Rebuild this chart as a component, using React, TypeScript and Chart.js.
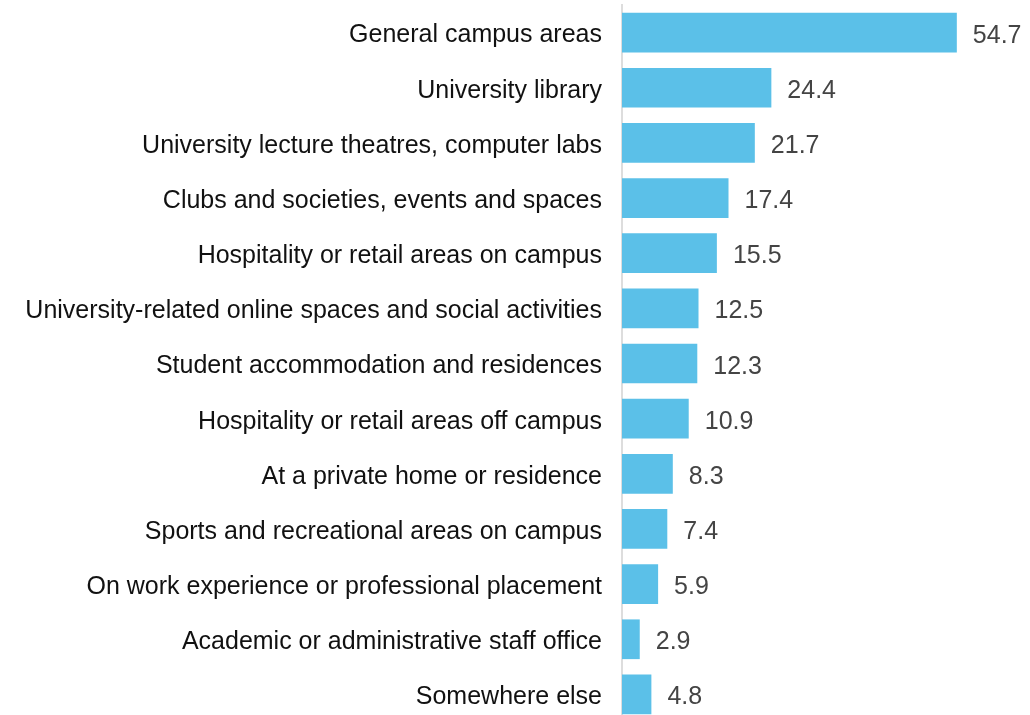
import React, { useEffect, useRef } from "react";
import { Chart, registerables } from "chart.js";

Chart.register(...registerables);

const categories = [
  "General campus areas",
  "University library",
  "University lecture theatres, computer labs",
  "Clubs and societies, events and spaces",
  "Hospitality or retail areas on campus",
  "University-related online spaces and social activities",
  "Student accommodation and residences",
  "Hospitality or retail areas off campus",
  "At a private home or residence",
  "Sports and recreational areas on campus",
  "On work experience or professional placement",
  "Academic or administrative staff office",
  "Somewhere else",
];

const values = [54.7, 24.4, 21.7, 17.4, 15.5, 12.5, 12.3, 10.9, 8.3, 7.4, 5.9, 2.9, 4.8];

const FONT = "'Liberation Sans', Arial, Helvetica, sans-serif";

const valueLabels = {
  id: "valueLabels",
  afterDatasetsDraw(chart: any) {
    const ctx = chart.ctx;
    const meta = chart.getDatasetMeta(0);
    ctx.save();
    ctx.font = `25px ${FONT}`;
    ctx.fillStyle = "#444444";
    ctx.textAlign = "left";
    ctx.textBaseline = "alphabetic";
    meta.data.forEach((bar: any, i: number) => {
      ctx.fillText(values[i].toFixed(1), bar.x + 16, bar.y + 10);
    });
    ctx.restore();
  },
};

export default function App() {
  const ref = useRef<HTMLCanvasElement>(null);
  useEffect(() => {
    if (!ref.current) return;
    const chart = new Chart(ref.current, {
      type: "bar",
      data: {
        labels: categories,
        datasets: [
          {
            data: values,
            backgroundColor: "#5bc0e8",
            borderWidth: 0,
            categoryPercentage: 0.8,
            barPercentage: 0.9,
          },
        ],
      },
      options: {
        indexAxis: "y",
        responsive: false,
        animation: false,
        layout: { padding: { top: 5, right: 4, bottom: 0, left: 0 } },
        plugins: { legend: { display: false }, tooltip: { enabled: false } },
        scales: {
          x: {
            min: 0,
            max: 66,
            display: false,
          },
          y: {
            grid: { display: false, drawTicks: false },
            border: { display: true, color: "#dddddd", width: 2 },
            ticks: {
              color: "#111111",
              font: { family: FONT, size: 25 },
              padding: 20,
              crossAlign: "near",
              autoSkip: false,
              labelOffset: 3,
            },
            afterFit(scale: any) {
              scale.width = 622;
              scale.paddingTop = 0;
              scale.paddingBottom = 0;
            },
          },
        },
      },
      plugins: [valueLabels],
    });
    return () => chart.destroy();
  }, []);
  return (
    <div style={{ position: "fixed", left: 0, top: 0, width: 1030, height: 715, overflow: "hidden", background: "#fff" }}>
      <canvas ref={ref} width={1030} height={722} style={{ display: "block" }} />
    </div>
  );
}
